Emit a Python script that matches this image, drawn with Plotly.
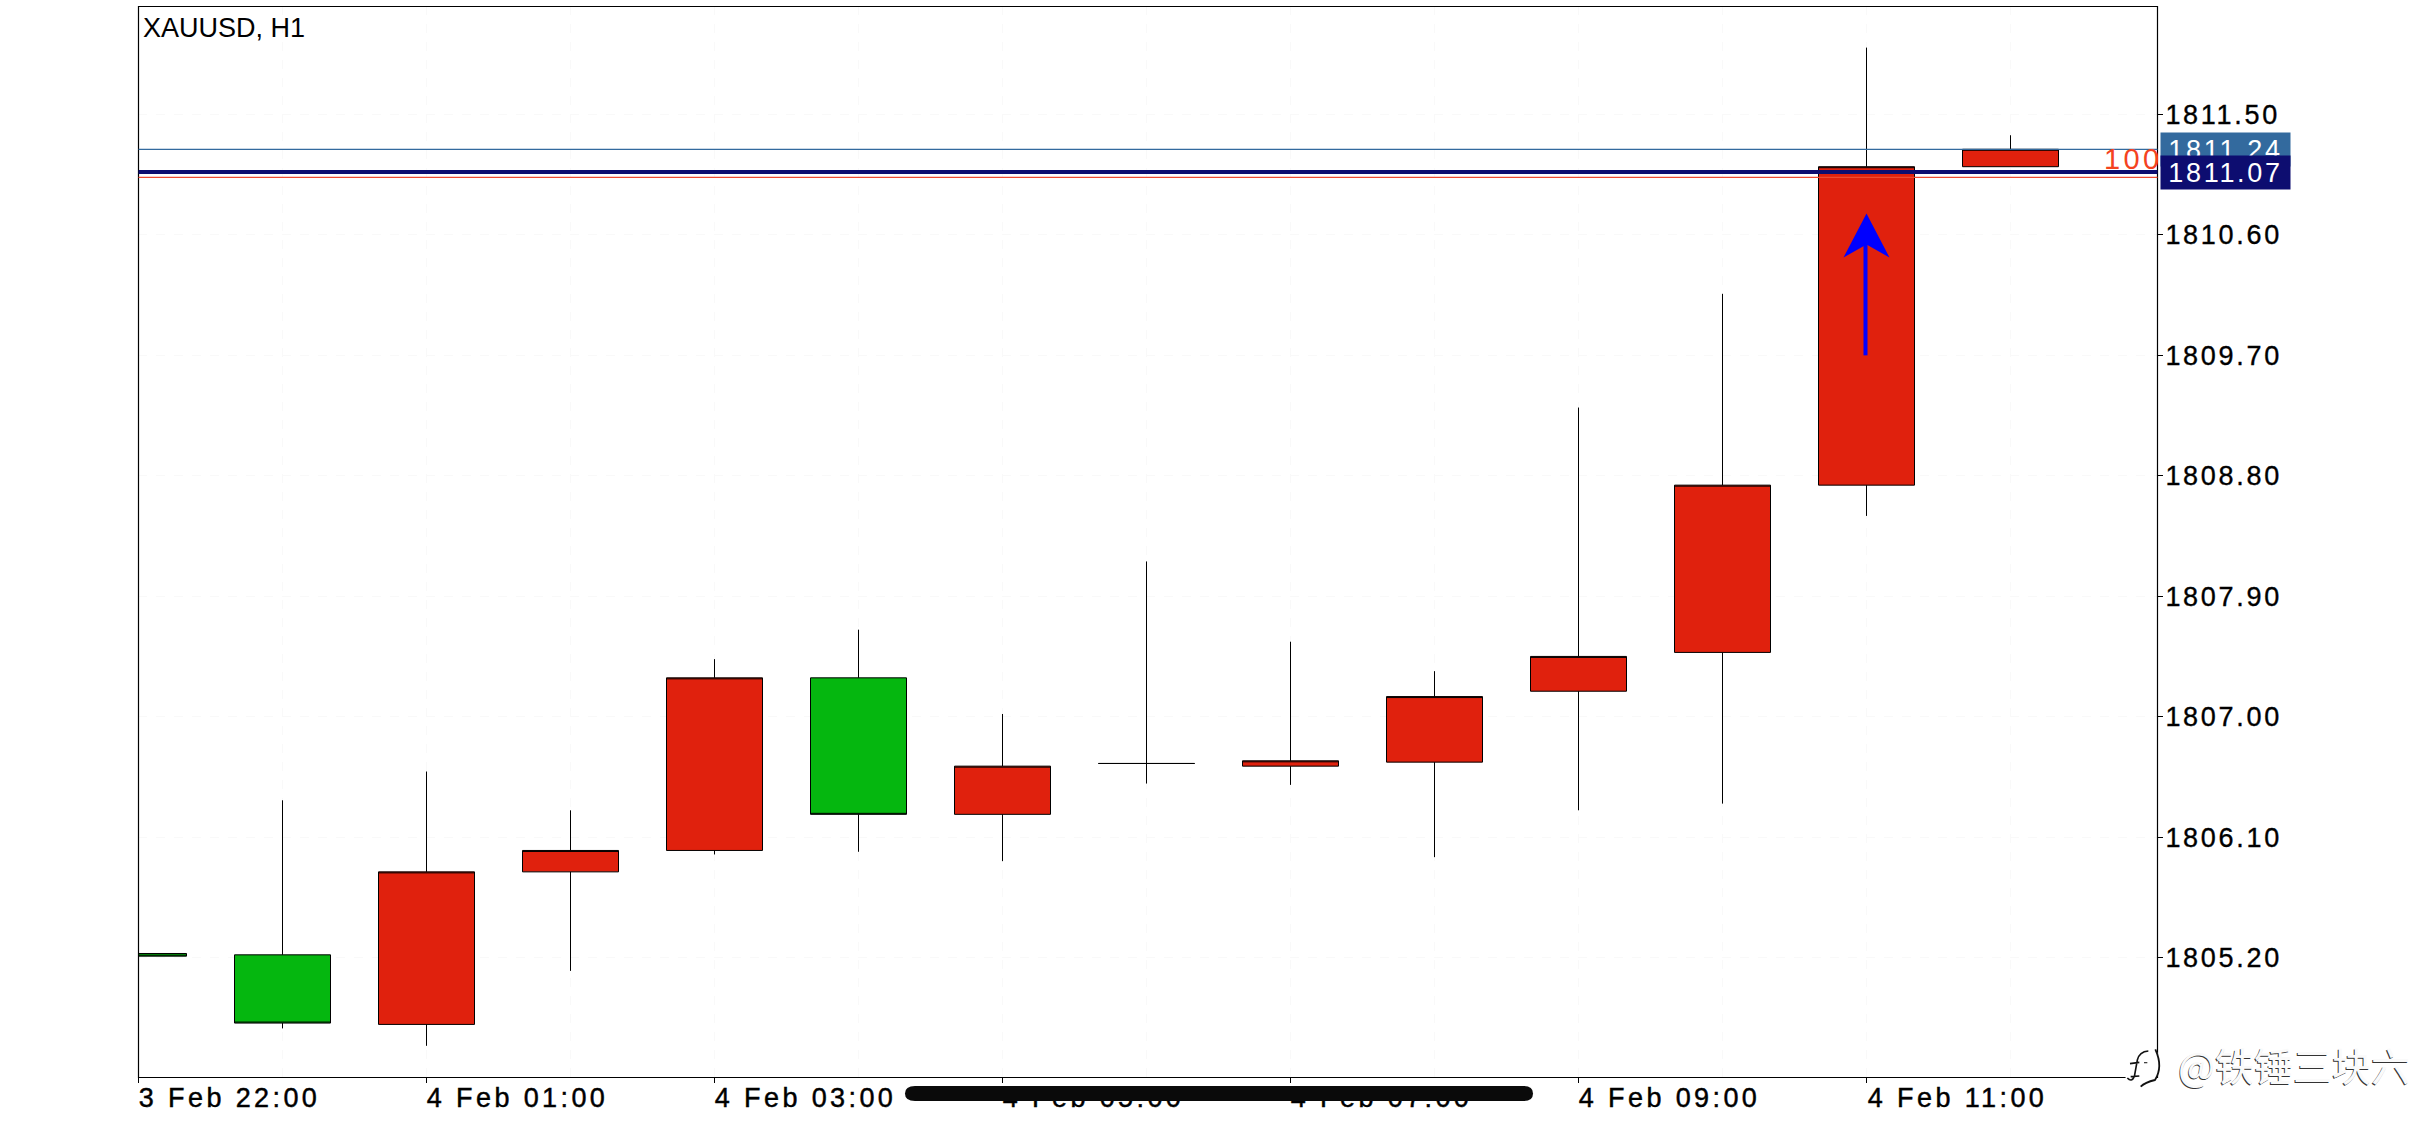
import plotly.graph_objects as go

# ---- data -------------------------------------------------------------
bar_times = ["3 Feb 22:00", "4 Feb 00:00", "4 Feb 01:00", "4 Feb 02:00", "4 Feb 03:00",
             "4 Feb 04:00", "4 Feb 05:00", "4 Feb 06:00", "4 Feb 07:00", "4 Feb 08:00",
             "4 Feb 09:00", "4 Feb 10:00", "4 Feb 11:00", "4 Feb 12:00"]
bar_index = list(range(len(bar_times)))
opens  = [1805.23, 1805.22, 1804.70, 1805.84, 1806.00, 1807.29, 1806.27, 1806.65, 1806.63, 1806.66, 1807.19, 1807.48, 1808.73, 1811.11]
closes = [1805.21, 1804.71, 1805.84, 1806.00, 1807.29, 1806.27, 1806.63, 1806.65, 1806.67, 1807.15, 1807.45, 1808.73, 1811.11, 1811.24]
highs  = [1805.23, 1806.375, 1806.59, 1806.30, 1807.43, 1807.65, 1807.02, 1808.16, 1807.56, 1807.34, 1809.31, 1810.16, 1812.00, 1811.345]
lows   = [1805.21, 1804.67, 1804.54, 1805.10, 1805.97, 1805.99, 1805.92, 1806.50, 1806.49, 1805.95, 1806.30, 1806.35, 1808.50, 1811.11]

x_tick_index = [0, 2, 4, 6, 8, 10, 12]
x_tick_labels = ["3 Feb 22:00", "4 Feb 01:00", "4 Feb 03:00", "4 Feb 05:00",
                 "4 Feb 07:00", "4 Feb 09:00", "4 Feb 11:00"]
y_ticks = [1805.2, 1806.1, 1807.0, 1807.9, 1808.8, 1809.7, 1810.6, 1811.5]

ask_price = 1811.24
bid_price = 1811.07
level_100 = 1811.03
arrow_tip = 1810.76
arrow_tail = 1809.70

# ---- layout constants ---------------------------------------------------
W, H = 2436, 1125
L, R, T, B = 138, 2157, 6, 1077
BAR_PX = 144.0
UNIT_PX = 133.81
FONT = "Liberation Sans"
x_start = -0.5 / BAR_PX
x_end = x_start + (R - L) / BAR_PX
y_top = 1811.5 + 108.5 / UNIT_PX
y_bottom = 1811.5 - 962.5 / UNIT_PX


def px(x):
    return (x - L) / (R - L)


def py(y):
    return 1 - (y - T) / (B - T)


def P(x, y):
    return f"{px(x):.5f},{py(y):.5f}"


fig = go.Figure(go.Candlestick(
    x=bar_index, open=opens, high=highs, low=lows, close=closes,
    increasing=dict(fillcolor="#e0210d", line=dict(color="#000000", width=1)),
    decreasing=dict(fillcolor="#000000", line=dict(color="#000000", width=1)),
    whiskerwidth=0, showlegend=False,
))
# green bodies keep their own fill; the flat-bar sliver at the start is black
fig.data[0].decreasing.fillcolor = "#05b70f"

hline = lambda y, c, w: dict(type="line", xref="paper", x0=px(138.5), x1=px(2157.5), yref="y", y0=y, y1=y,
                             line=dict(color=c, width=w), layer="above")

pill = (f"M{P(915, 1086)} L{P(1524, 1086)} Q{P(1533, 1086)} {P(1533, 1093.5)} "
        f"Q{P(1533, 1101)} {P(1524, 1101)} L{P(915, 1101)} Q{P(905, 1101)} {P(905, 1093.5)} "
        f"Q{P(905, 1086)} {P(915, 1086)} Z")

# arrow head, sized in pixels around the arrow's tip
arrow_x = bar_index[12]
hw, hl, nl = 23 / BAR_PX, 44 / UNIT_PX, 31 / UNIT_PX
head = (f"M{arrow_x},{arrow_tip} L{arrow_x + hw},{arrow_tip - hl} "
        f"L{arrow_x},{arrow_tip - nl} L{arrow_x - hw},{arrow_tip - hl} Z")

# Weibo-like logo drawn as outline strokes over a white blob
Z = lambda a, b: P(2100 + a / 3, 920 + b / 3)
blob = (f"M{Z(75, 470)} L{Z(90, 420)} L{Z(125, 388)} L{Z(165, 382)} L{Z(185, 430)} "
        f"L{Z(165, 482)} L{Z(120, 505)} L{Z(90, 490)} Z")
logo_f = (f"M{Z(82, 474)} Q{Z(95, 488)} {Z(103, 470)} L{Z(112, 420)} Q{Z(118, 395)} {Z(145, 393)} "
          f"M{Z(90, 431)} L{Z(118, 427)} M{Z(92, 470)} L{Z(118, 468)}")
logo_tail = f"M{Z(122, 500)} Q{Z(135, 487)} {Z(165, 480)} Q{Z(190, 440)} {Z(166, 388)}"
logo_dot = f"M{Z(132, 428)} L{Z(142, 428)}"

shapes = [
    dict(type="rect", xref="paper", yref="paper", x0=px(138.5), x1=px(2157.5), y0=py(1077.5), y1=py(6.5),
         line=dict(color="#000000", width=1.2), fillcolor="rgba(0,0,0,0)", layer="above"),
    hline(ask_price, "#336a9e", 1.3),
    hline(bid_price, "#0d0d70", 4),
    hline(level_100, "#f04a30", 1.3),
    dict(type="line", xref="x", yref="y", x0=arrow_x - 1 / BAR_PX, x1=arrow_x - 1 / BAR_PX, y0=arrow_tail,
         y1=arrow_tip - nl + 0.02, line=dict(color="#0000ff", width=4), layer="above"),
    dict(type="path", xref="x", yref="y", path=head, fillcolor="#0000ff",
         line=dict(width=0), layer="above"),
    dict(type="path", xref="paper", yref="paper", path=pill,
         fillcolor="#0a0a0a", line=dict(width=0), layer="above"),
    dict(type="path", xref="paper", yref="paper", path=blob,
         fillcolor="#ffffff", line=dict(width=0), layer="above"),
    dict(type="path", xref="paper", yref="paper", path=logo_f,
         line=dict(color="#111111", width=1.6), layer="above"),
    dict(type="path", xref="paper", yref="paper", path=logo_tail,
         line=dict(color="#111111", width=1.8), layer="above"),
    dict(type="path", xref="paper", yref="paper", path=logo_dot,
         line=dict(color="#333333", width=1.2), layer="above"),
]

annotations = [
    dict(text="XAUUSD, H1", xref="paper", yref="paper", x=px(141), y=py(28), xanchor="left",
         yanchor="middle", showarrow=False, font=dict(family=FONT, size=27, color="#000000")),
    dict(text="100", xref="paper", yref="y", x=1, y=level_100, xanchor="right", yanchor="bottom",
         yshift=0, xshift=2, showarrow=False, font=dict(family=FONT, size=29, color="#f4431f")),
    dict(text=f"{ask_price:.2f}", xref="paper", yref="y", x=1, y=ask_price, xanchor="left",
         yanchor="middle", xshift=3, width=129, height=33, align="center", borderpad=0,
         bgcolor="#336a9e", showarrow=False, font=dict(family=FONT, size=27, color="#ffffff")),
    dict(text=f"{bid_price:.2f}", xref="paper", yref="y", x=1, y=bid_price, xanchor="left",
         yanchor="middle", xshift=3, width=129, height=33, align="center", borderpad=0,
         bgcolor="#0d0d70", showarrow=False, font=dict(family=FONT, size=27, color="#ffffff")),
    dict(text="@铁锤三块六", xref="paper", yref="paper", x=px(2176), y=py(1064), xanchor="left",
         yanchor="middle", showarrow=False,
         font=dict(family="Noto Sans CJK SC", size=39, color="#fafafa",
                   shadow="-0.8px 0.8px 0px #333333")),
]

axis_common = dict(showline=False, ticks="outside", tickcolor="#000000", tickwidth=1, ticklen=5,
                   zeroline=False, tickfont=dict(family=FONT, size=27, color="#000000"))

fig.update_layout(
    width=W, height=H, margin=dict(l=L, r=W - R, t=T, b=H - B, pad=0, autoexpand=False),
    paper_bgcolor="#ffffff", plot_bgcolor="#ffffff", showlegend=False, hovermode=False,
    boxgap=1 / 3, boxgroupgap=0,
    shapes=shapes, annotations=annotations,
    xaxis=dict(type="linear", range=[x_start, x_end], tickmode="array", tickvals=x_tick_index,
               ticktext=x_tick_labels, rangeslider=dict(visible=False), ticklabelshift=91,
               showgrid=False, ticklabelstandoff=-8,
               minor=dict(tickmode="array", tickvals=bar_index, showgrid=True, gridcolor="#f9f9f9",
                          griddash="dash", gridwidth=1, ticklen=0),
               **axis_common),
    yaxis=dict(range=[y_bottom, y_top], tickmode="array", tickvals=y_ticks,
               ticktext=[f"{v:.2f}" for v in y_ticks], side="right", ticklabelstandoff=-3,
               showgrid=True, gridcolor="#f9f9f9", griddash="dash", gridwidth=1,
               **axis_common),
)

post = """
var s = document.createElement('style');
s.textContent = 'html,body{margin:0;padding:0;overflow:hidden;background:#fff}'
 + '.xtick text{letter-spacing:3.4px;stroke:#000;stroke-width:.45px}'
 + '.ytick text{letter-spacing:2.7px;stroke:#000;stroke-width:.35px}'
 + '.annotation[data-index="1"] text{letter-spacing:3.4px}'
 + '.annotation[data-index="2"] text,.annotation[data-index="3"] text{letter-spacing:2.7px}';
document.head.appendChild(s);
"""
fig.write_html("out.html", post_script=post, config=dict(displayModeBar=False))
